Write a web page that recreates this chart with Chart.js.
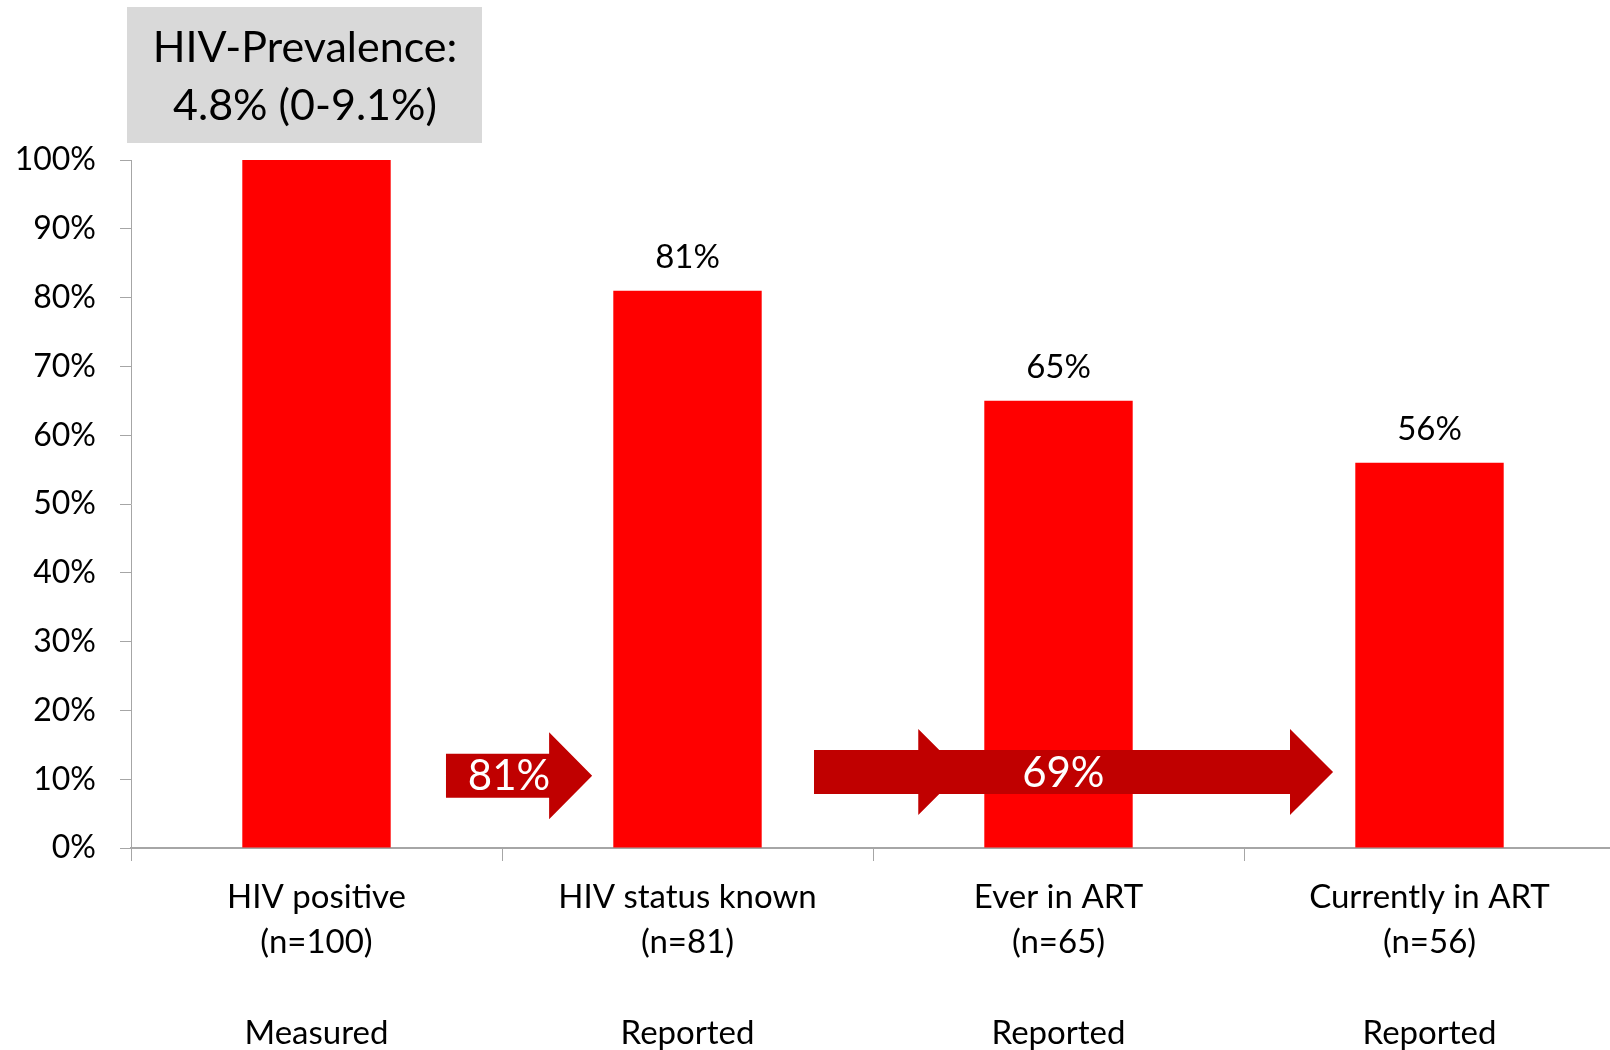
<!DOCTYPE html>
<html>
<head>
<meta charset="utf-8">
<script src="https://cdn.jsdelivr.net/npm/chart.js@4.4.1/dist/chart.umd.min.js"></script>
<style>
  html, body { margin: 0; padding: 0; background: #fff; overflow: hidden; }
</style>
</head>
<body>
<canvas id="cascadeChart" width="1620" height="1050"></canvas>
<script>
// HIV care cascade
const stageNames = ['HIV positive', 'HIV status known', 'Ever in ART', 'Currently in ART'];
const stageCounts = [100, 81, 65, 56];
const stageSources = ['Measured', 'Reported', 'Reported', 'Reported'];
const stagePercent = [100, 81, 65, 56];
const yTickValues = [0, 10, 20, 30, 40, 50, 60, 70, 80, 90, 100];
const stepRates = ['81%', '69%'];
const prevalenceLines = ['HIV-Prevalence:', '4.8% (0-9.1%)'];

const FONT = 'Lato';
const RED = '#ff0000';
const DARK_RED = '#c00000';
const AXIS_GREY = '#a6a6a6';

const stageLabels = stageNames.map((n, i) => [n, `(n=${stageCounts[i]})`, '', stageSources[i]]);

// right-pointing block arrow; x values in category units, y in percent
function blockArrow(ctx, xs, ys, from, headAt, tip, yVal, halfBody, halfHead) {
  const catW = xs.getPixelForValue(1) - xs.getPixelForValue(0);
  const px = v => xs.getPixelForValue(0) + v * catW;
  const y = ys.getPixelForValue(yVal);
  ctx.beginPath();
  ctx.moveTo(px(from), y - halfBody);
  ctx.lineTo(px(headAt), y - halfBody);
  ctx.lineTo(px(headAt), y - halfHead);
  ctx.lineTo(px(tip), y);
  ctx.lineTo(px(headAt), y + halfHead);
  ctx.lineTo(px(headAt), y + halfBody);
  ctx.lineTo(px(from), y + halfBody);
  ctx.closePath();
  ctx.fill();
}

const cascadeOverlay = {
  id: 'cascadeOverlay',
  afterDatasetsDraw(chart) {
    const { ctx, scales: { x: xs, y: ys } } = chart;
    const meta = chart.getDatasetMeta(0);
    ctx.save();
    ctx.fillStyle = '#000';
    ctx.font = `33px ${FONT}`;
    ctx.textAlign = 'center';
    ctx.textBaseline = 'middle';
    meta.data.forEach((bar, i) => {
      if (i === 0) return;
      ctx.fillText(stagePercent[i] + '%', bar.x, bar.y - 33);
    });

    // conversion arrows
    const catW = xs.getPixelForValue(1) - xs.getPixelForValue(0);
    const px = v => xs.getPixelForValue(0) + v * catW;
    ctx.fillStyle = DARK_RED;
    blockArrow(ctx, xs, ys, 0.349, 0.627, 0.743, 10.5, 22, 43.5);
    blockArrow(ctx, xs, ys, 1.356, 1.622, 1.738, 11.05, 22, 43);
    blockArrow(ctx, xs, ys, 1.341, 2.624, 2.740, 11.05, 22, 43);
    ctx.fillStyle = '#fff';
    ctx.font = `42px ${FONT}`;
    ctx.fillText(stepRates[0], px(0.519), ys.getPixelForValue(10.5) + 1);
    ctx.fillText(stepRates[1], px(2.013), ys.getPixelForValue(11.05) + 1);

    // prevalence box
    const left = chart.chartArea.left - 4;
    ctx.fillStyle = '#d9d9d9';
    ctx.fillRect(left, 7, 355, 136);
    ctx.fillStyle = '#000';
    ctx.font = `43px ${FONT}`;
    ctx.fillText(prevalenceLines[0], left + 178, 48);
    ctx.fillText(prevalenceLines[1], left + 178, 106);
    ctx.restore();
  }
};

new Chart(document.getElementById('cascadeChart'), {
  type: 'bar',
  data: {
    labels: stageLabels,
    datasets: [{
      data: stagePercent,
      backgroundColor: RED,
      borderWidth: 0,
      barPercentage: 0.4,
      categoryPercentage: 1
    }]
  },
  options: {
    responsive: false,
    devicePixelRatio: 1,
    animation: false,
    layout: { padding: { top: 160, right: 5, left: 0, bottom: 0 } },
    plugins: { legend: { display: false }, tooltip: { enabled: false } },
    scales: {
      x: {
        grid: { offset: true, drawOnChartArea: false, tickLength: 13, color: AXIS_GREY },
        border: { color: AXIS_GREY, width: 2 },
        ticks: {
          color: '#000',
          font: { family: FONT, size: 33, lineHeight: 1.37 },
          padding: 14,
          maxRotation: 0,
          autoSkip: false
        },
        afterFit(s) { s.height = 202; }
      },
      y: {
        min: 0,
        max: 100,
        afterBuildTicks(s) { s.ticks = yTickValues.map(v => ({ value: v })); },
        ticks: {
          color: '#000',
          font: { family: FONT, size: 32 },
          padding: 24,
          callback: v => v + '%'
        },
        grid: { drawOnChartArea: false, tickLength: 11, color: AXIS_GREY },
        border: { color: AXIS_GREY },
        afterFit(s) { s.width = 131; }
      }
    }
  },
  plugins: [cascadeOverlay]
});
</script>
</body>
</html>
